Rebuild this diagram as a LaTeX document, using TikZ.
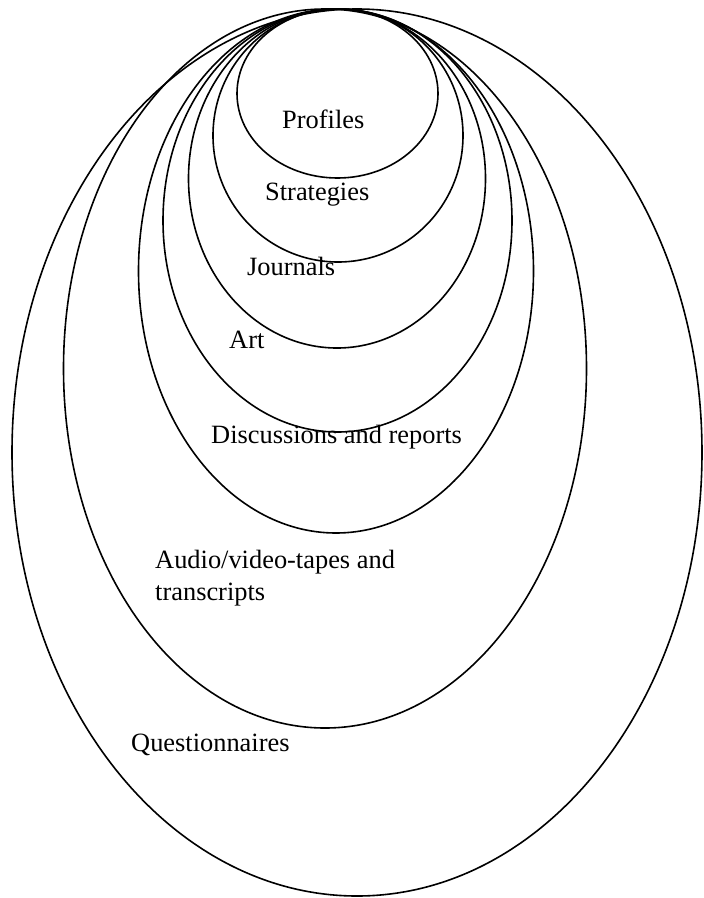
\documentclass[tikz,border=0pt]{standalone}
\usepackage{fontspec}
\setmainfont{Liberation Serif}
\begin{document}
\begin{tikzpicture}[x=1pt,y=-1pt,
  ring/.style={draw=black,line width=1.6pt},
  lbl/.style={anchor=base west,inner sep=0pt,font=\fontsize{26.4}{32}\selectfont}]
\useasboundingbox (0,0) rectangle (704,898);
% nested ellipses, all touching at the top
\draw[ring] (337.5,93.5) ellipse [x radius=100.5pt,y radius=84.5pt];
\draw[ring] (338,135.5)  ellipse [x radius=125pt,  y radius=126.5pt];
\draw[ring] (337,178.5)  ellipse [x radius=148.5pt,y radius=169.5pt];
\draw[ring] (337.5,220.5) ellipse [x radius=174.5pt,y radius=211.5pt];
\draw[ring] (336,271)    ellipse [x radius=197.5pt,y radius=262pt];
\draw[ring] (325,368.5)  ellipse [x radius=261.5pt,y radius=359.5pt];
\draw[ring] (357,452.5)  ellipse [x radius=345pt,  y radius=443.5pt];
% labels
\node[lbl] (profiles)  at (282,128) {Profiles};
\node[lbl] (strategies) at (265,200) {Strategies};
\node[lbl] (journals)  at (247,275) {Journals};
\node[lbl] (art)       at (229,348) {Art};
\node[lbl] (discussions) at (211,443) {Discussions and reports};
\node[lbl] (audioA)    at (155,568) {Audio/video-tapes and};
\node[lbl] (audioB)    at (155,600) {transcripts};
\node[lbl] (questionnaires) at (131,751) {Questionnaires};
\end{tikzpicture}
\end{document}
